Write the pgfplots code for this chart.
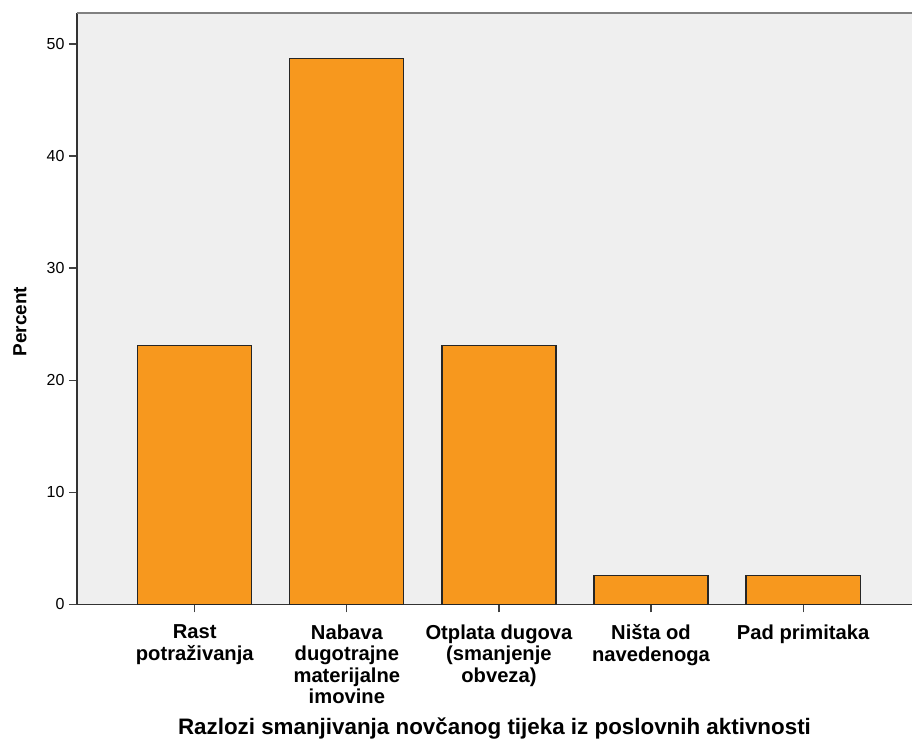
\documentclass[border=0pt]{standalone}
\usepackage{pgfplots}
\pgfplotsset{compat=1.18}
\usepackage{fontspec}
\setmainfont{Liberation Sans}
\definecolor{barfill}{HTML}{F7981E}
\definecolor{bgc}{HTML}{EFEFEF}
\begin{document}
\begin{tikzpicture}[x=1pt,y=1pt]
\begin{axis}[
  at={(77pt,137pt)}, anchor=south west,
  scale only axis, width=836pt, height=592pt,
  xmin=-0.775, xmax=4.716, ymin=0, ymax=52.76,
  axis background/.style={fill=bgc},
  axis x line*=bottom, axis y line*=left,
  axis line style={-, line width=1.2pt, color=black!80},
  ytick={0,10,20,30,40,50},
  xtick=data,
  xticklabels={{Rast\\potraživanja},{Nabava\\dugotrajne\\materijalne\\imovine},{Otplata dugova\\(smanjenje\\obveza)},{Ništa od\\navedenoga},{Pad primitaka}},
  tick align=outside, major tick length=8pt,
  tick style={line width=1.2pt, color=black!75},
  yticklabel style={font=\fontsize{16}{18}\selectfont, xshift=-1pt},
  xticklabel style={font=\fontsize{20.2}{21.5}\selectfont\bfseries, align=center, anchor=north, yshift=-9pt},
  /pgf/number format/assume math mode=true,
  xlabel={Razlozi smanjivanja novčanog tijeka iz poslovnih aktivnosti},
  xlabel style={font=\fontsize{22.4}{24}\selectfont\bfseries, at={(axis description cs:0.5,0)}, anchor=center, yshift=-124pt},
  ylabel={Percent},
  ylabel style={font=\fontsize{19}{21}\selectfont\bfseries, at={(axis description cs:0,0.5)}, anchor=center, xshift=-13pt, yshift=57pt},
  clip=false,
]
\addplot[ybar, bar width=0.75, fill=barfill, draw=black!85, line width=1.2pt] coordinates {
  (0,23.08) (1,48.72) (2,23.08) (3,2.56) (4,2.56)
};
\draw[color=black!50, line width=2pt] (axis cs:-0.775,52.76) -- (axis cs:4.716,52.76);
\end{axis}
\path (0,0) rectangle (913,742);
\end{tikzpicture}
\end{document}
